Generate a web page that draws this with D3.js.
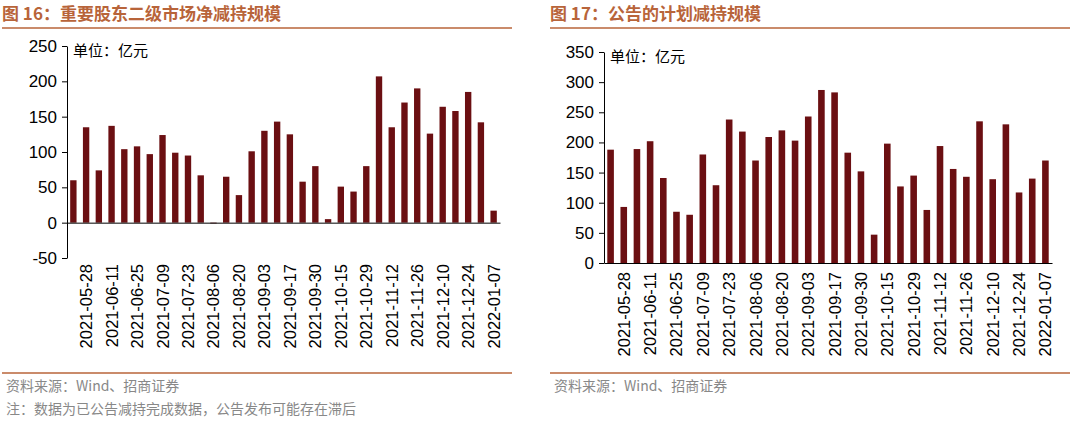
<!DOCTYPE html>
<html><head><meta charset="utf-8">
<script src="https://cdn.jsdelivr.net/npm/d3@7"></script>
<style>
body{margin:0;background:#fff;}
svg text{font-family:"Liberation Sans",Arial,sans-serif;}
.cjk{font-family:"Noto Sans CJK SC",sans-serif;}
</style></head><body>
<svg id="c" width="1080" height="422"></svg>
<script>
// ------------ DATA -----------------
const dates = ["2021-05-21","2021-05-28","2021-06-04","2021-06-11","2021-06-18","2021-06-25","2021-07-02","2021-07-09",
  "2021-07-16","2021-07-23","2021-07-30","2021-08-06","2021-08-13","2021-08-20","2021-08-27","2021-09-03","2021-09-10",
  "2021-09-17","2021-09-24","2021-09-30","2021-10-08","2021-10-15","2021-10-22","2021-10-29","2021-11-05","2021-11-12",
  "2021-11-19","2021-11-26","2021-12-03","2021-12-10","2021-12-17","2021-12-24","2021-12-31","2022-01-07"];
const netReduction = [60,135,74,137,104,108,97,124,99,95,67,-1,65,39,101,130,143,125,58,80,5,51,44,80,207,135,170,190,126,164,158,185,142,17];
const plannedReduction = [188,93,189,202,141,85,80,180,129,238,218,170,209,220,203,243,287,283,183,152,47,198,127,145,88,194,156,143,235,139,230,117,140,170];
const leftTicks = [-50,0,50,100,150,200,250];
const rightTicks = [0,50,100,150,200,250,300,350];

const svg = d3.select("#c");
const titleColor = "#b8643a";
const barColor = "#6b0f12";

function panel(o) {
  const g = svg.append("g");
  // title + rule
  g.append("text").attr("class","cjk").attr("x",o.x0).attr("y",20)
    .attr("font-size",17).attr("font-weight","bold").attr("fill",titleColor).text(o.title);
  g.append("line").attr("x1",o.x0).attr("x2",o.x1).attr("y1",28).attr("y2",28)
    .attr("stroke",titleColor).attr("stroke-width",1.5);
  g.append("line").attr("x1",o.x0).attr("x2",o.x1).attr("y1",373).attr("y2",373)
    .attr("stroke",titleColor).attr("stroke-width",1.5);

  const x = d3.scaleBand().domain(dates).range([o.axisX, o.right]).paddingInner(0.5).paddingOuter(0.25);
  const y = d3.scaleLinear().domain(o.domain).range([o.bottom, o.top]);

  g.selectAll("rect").data(o.values).join("rect")
    .attr("x",(d,i)=>x(dates[i])).attr("width",x.bandwidth())
    .attr("y",d=>y(Math.max(0,d))).attr("height",d=>Math.abs(y(d)-y(0)))
    .attr("fill",barColor);

  const ya = g.append("g").attr("transform",`translate(${o.axisX},0)`)
    .call(d3.axisLeft(y).tickValues(o.ticks).tickFormat(d=>String(d)).tickSize(5).tickSizeOuter(0));
  ya.selectAll("text").attr("font-size",17).attr("fill","#000").attr("dx",-2);
  ya.select(".domain").attr("stroke","#000");
  ya.selectAll(".tick line").attr("stroke","#000");

  const xa = g.append("g").attr("transform",`translate(0,${y(0)})`)
    .call(d3.axisBottom(x).tickValues([]).tickSize(0));
  xa.select(".domain").attr("stroke","#000");

  const labels = dates.filter((d,i)=>i%2===1);
  g.selectAll(".xl").data(labels).join("text").attr("class","xl")
    .attr("transform",d=>`translate(${x(d)+x.bandwidth()/2+6},${o.labelTop}) rotate(-90)`)
    .attr("text-anchor","end").attr("font-size",16.5).attr("fill","#000").text(d=>d);

  g.append("text").attr("class","cjk").attr("x",o.axisX+6).attr("y",o.top+10)
    .attr("font-size",15).attr("fill","#000").text("单位：亿元");

  g.append("text").attr("class","cjk").attr("x",o.x0+4).attr("y",391)
    .attr("font-size",14).attr("fill","#888").text("资料来源：Wind、招商证券");
  if (o.note) g.append("text").attr("class","cjk").attr("x",o.x0+4).attr("y",414)
    .attr("font-size",14).attr("fill","#888").text(o.note);
}

panel({x0:2,x1:512,title:"图 16：重要股东二级市场净减持规模",values:netReduction,domain:[-50,250],ticks:leftTicks,
  axisX:67,right:500,top:46,bottom:258,labelTop:264,note:"注：数据为已公告减持完成数据，公告发布可能存在滞后"});
panel({x0:550,x1:1070,title:"图 17：公告的计划减持规模",values:plannedReduction,domain:[0,350],ticks:rightTicks,
  axisX:604,right:1052,top:52,bottom:263,labelTop:272});
</script></body></html>
